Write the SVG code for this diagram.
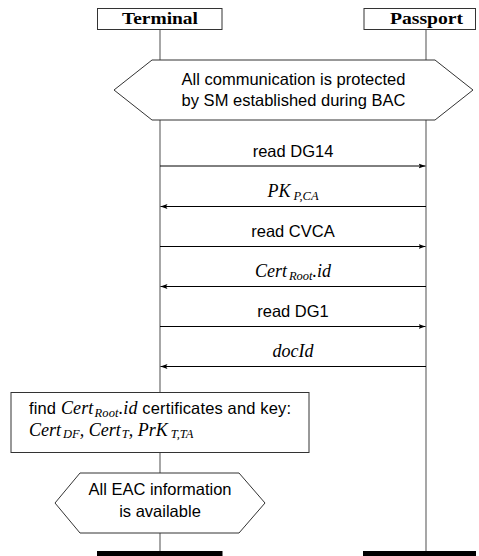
<svg xmlns="http://www.w3.org/2000/svg" width="479" height="556" viewBox="0 0 479 556">
<style>
.hdr{font-family:"Liberation Serif",serif;font-weight:bold;font-size:16px;fill:#000}
.sans{font-family:"Liberation Sans",Arial,sans-serif;font-size:16.5px;fill:#000}
.math{font-family:"Liberation Serif",serif;font-style:italic;font-size:18px;fill:#000}
.sub{font-size:12.5px}
.box{fill:#fff;stroke:#333;stroke-width:1}
.life{stroke:#777;stroke-width:1.3;fill:none}
.msg{stroke:#000;stroke-width:1;fill:none;marker-end:url(#ah)}
.bar{fill:#000}
</style>
<defs>
<marker id="ah" markerWidth="8" markerHeight="6" refX="7" refY="3" orient="auto" markerUnits="userSpaceOnUse">
<path d="M0,0.5 L7,3 L0,5.5 L1.5,3 Z" fill="#000"/>
</marker>
</defs>
<g id="lifelines">
<line class="life" x1="160" y1="29.5" x2="160" y2="551"/>
<line class="life" x1="426" y1="29.5" x2="426" y2="551"/>
</g>
<g id="terminal">
<rect class="box" x="97.5" y="8.5" width="124.5" height="21"/>
<text class="hdr" x="160" y="24" text-anchor="middle" textLength="76" lengthAdjust="spacingAndGlyphs">Terminal</text>
</g>
<g id="passport">
<rect class="box" x="364" y="8.5" width="111.5" height="21"/>
<text class="hdr" x="426.5" y="24" text-anchor="middle" textLength="73" lengthAdjust="spacingAndGlyphs">Passport</text>
</g>
<g id="bac">
<polygon class="box" points="114,90 152,60 435,60 473,90 435,120 152,120"/>
<text class="sans" x="293.5" y="84.5" text-anchor="middle">All communication is protected</text>
<text class="sans" x="293.5" y="106" text-anchor="middle">by SM established during BAC</text>
</g>
<g id="connectors">
<line class="msg" x1="160" y1="166" x2="425.5" y2="166"/>
<line class="msg" x1="426" y1="206.5" x2="160.5" y2="206.5"/>
<line class="msg" x1="160" y1="246.5" x2="425.5" y2="246.5"/>
<line class="msg" x1="426" y1="286.5" x2="160.5" y2="286.5"/>
<line class="msg" x1="160" y1="326.5" x2="425.5" y2="326.5"/>
<line class="msg" x1="426" y1="366.5" x2="160.5" y2="366.5"/>
</g>
<g id="labels">
<text class="sans" x="293" y="156.5" text-anchor="middle">read DG14</text>
<text class="math" x="293" y="196.5" text-anchor="middle">PK<tspan class="sub" dx="3" dy="3">P,CA</tspan></text>
<text class="sans" x="293" y="237" text-anchor="middle">read CVCA</text>
<text class="math" x="293" y="276.5" text-anchor="middle">Cert<tspan class="sub" dx="2" dy="3">Root</tspan><tspan dy="-3">.id</tspan></text>
<text class="sans" x="293" y="316.5" text-anchor="middle">read DG1</text>
<text class="math" x="293" y="356.5" text-anchor="middle">docId</text>
</g>
<g id="find">
<rect class="box" x="11" y="392.5" width="298" height="60"/>
<text class="sans" x="29" y="414" textLength="262" lengthAdjust="spacing">find <tspan class="math">Cert</tspan><tspan class="math sub" dx="1" dy="2.5">Root</tspan><tspan class="math" dy="-2.5">.id</tspan> certificates and key:</text>
<text class="math" x="29" y="435.5">Cert<tspan class="sub" dx="2" dy="2.5">DF</tspan><tspan dy="-2.5">, Cert</tspan><tspan class="sub" dx="1" dy="2.5">T</tspan><tspan dy="-2.5">, PrK</tspan><tspan class="sub" dx="3" dy="2.5">T,TA</tspan></text>
</g>
<g id="eac">
<polygon class="box" points="55,503 80,473 239,473 265,503 239,533 80,533"/>
<text class="sans" x="160" y="495" text-anchor="middle">All EAC information</text>
<text class="sans" x="160" y="517" text-anchor="middle">is available</text>
</g>
<g id="ends">
<rect class="bar" x="97" y="551" width="125.5" height="5"/>
<rect class="bar" x="363" y="551" width="113" height="5"/>
</g>
</svg>
